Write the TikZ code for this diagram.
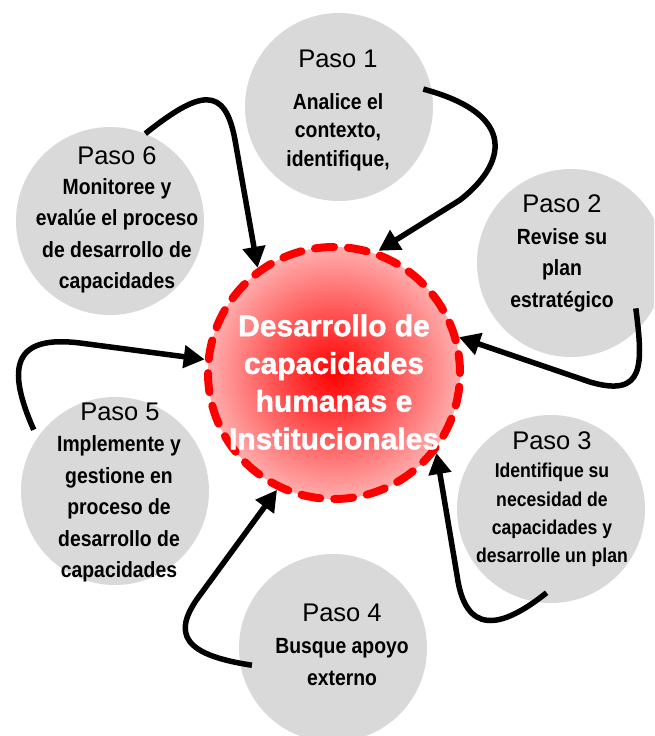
\documentclass[tikz,border=0pt]{standalone}
\usepackage{fontspec}
\setmainfont{Liberation Sans}
\newfontfamily\textofont[FakeStretch=0.88]{Liberation Sans}
\newfontfamily\centrofont[FakeBold=1.5]{Liberation Sans}
\usepackage{tikz}
\usetikzlibrary{arrows.meta,calc}
\definecolor{gris}{RGB}{217,217,217}
\pgfdeclareradialshading{brillo}{\pgfpoint{0bp}{0bp}}{color(0bp)=(red); color(25bp)=(red!32); color(50bp)=(red!32)}

\begin{document}
\begin{tikzpicture}[x=1pt, y=-1pt,
    paso/.style={circle, fill=gris, minimum size=188pt, inner sep=0pt},
    titulo/.style={anchor=base, font=\fontsize{25.5}{30}\selectfont},
    texto/.style={align=center, font=\textofont\bfseries\fontsize{22}{31.5}\selectfont},
    flecha/.style={line width=5.5pt, -{Triangle[length=21pt,width=22pt]}}]
      \useasboundingbox (0,0) rectangle (654,736);
      \clip (0,0) rectangle (654,736);

      \node[paso] (p1) at (339,107) {};
      \node[paso] (p2) at (571,263) {};
      \node[paso] (p3) at (551,509) {};
      \node[paso] (p4) at (333,648) {};
      \node[paso] (p5) at (115,491) {};
      \node[paso] (p6) at (110,221) {};

      \node[circle, minimum size=252pt, inner sep=0pt, shading=brillo,
            draw=red, line width=8pt, line cap=round,
            dash pattern=on 19pt off 14pt] (c) at (334,373) {};

      \node[titulo] (t1) at (338,67) {Paso 1};
      \node[titulo] (t2) at (562,212) {Paso 2};
      \node[titulo] (t3) at (552,449) {Paso 3};
      \node[titulo] (t4) at (342,621) {Paso 4};
      \node[titulo] (t5) at (120,420) {Paso 5};
      \node[titulo] (t6) at (117,164) {Paso 6};

      \node[texto, font=\textofont\bfseries\fontsize{22}{28.5}\selectfont] (d1) at (338,132) {Analice el\\contexto,\\identifique,};
      \node[texto] (d2) at (562,270) {Revise su\\plan\\estratégico};
      \node[texto, font=\textofont\bfseries\fontsize{20}{28.3}\selectfont] (d3) at (552,515) {Identifique su\\necesidad de\\capacidades y\\desarrolle un plan};
      \node[texto] (d4) at (342,662) {Busque apoyo\\externo};
      \node[texto] (d5) at (119,509) {Implemente y\\gestione en\\proceso de\\desarrollo de\\capacidades};
      \node[texto] (d6) at (117,236) {Monitoree y\\evalúe el proceso\\de desarrollo de\\capacidades};

      \draw[flecha] ($(p1)!.915!(p1.12)$) .. controls (520,115) and (505,165) .. (460,200) -- (c.70);
      \draw[flecha] ($(p2)!.84!(p2.-35)$) .. controls (643,365) and (645,398) .. (590,382) -- (c.16);
      \draw[flecha] ($(p3)!.89!(p3.-93)$) .. controls (500,630) and (465,635) .. (457,575) -- (c.-38);
      \draw[flecha] ($(p4)!.88!(p4.192)$) .. controls (185,655) and (170,635) .. (200,595) -- (c.244);
      \draw[flecha] ($(p5)!1.08!(p5.143)$) .. controls (5,365) and (15,335) .. (80,343) -- (c.174);
      \draw[flecha] (p6.68) .. controls (200,90) and (225,85) .. (235,140) -- (c.126);

      \node[align=center, text=white, font=\centrofont\bfseries\fontsize{30}{37.7}\selectfont] (dc) at (334,382) {Desarrollo de\\capacidades\\humanas e\\Institucionales};
    \end{tikzpicture}
\end{document}
